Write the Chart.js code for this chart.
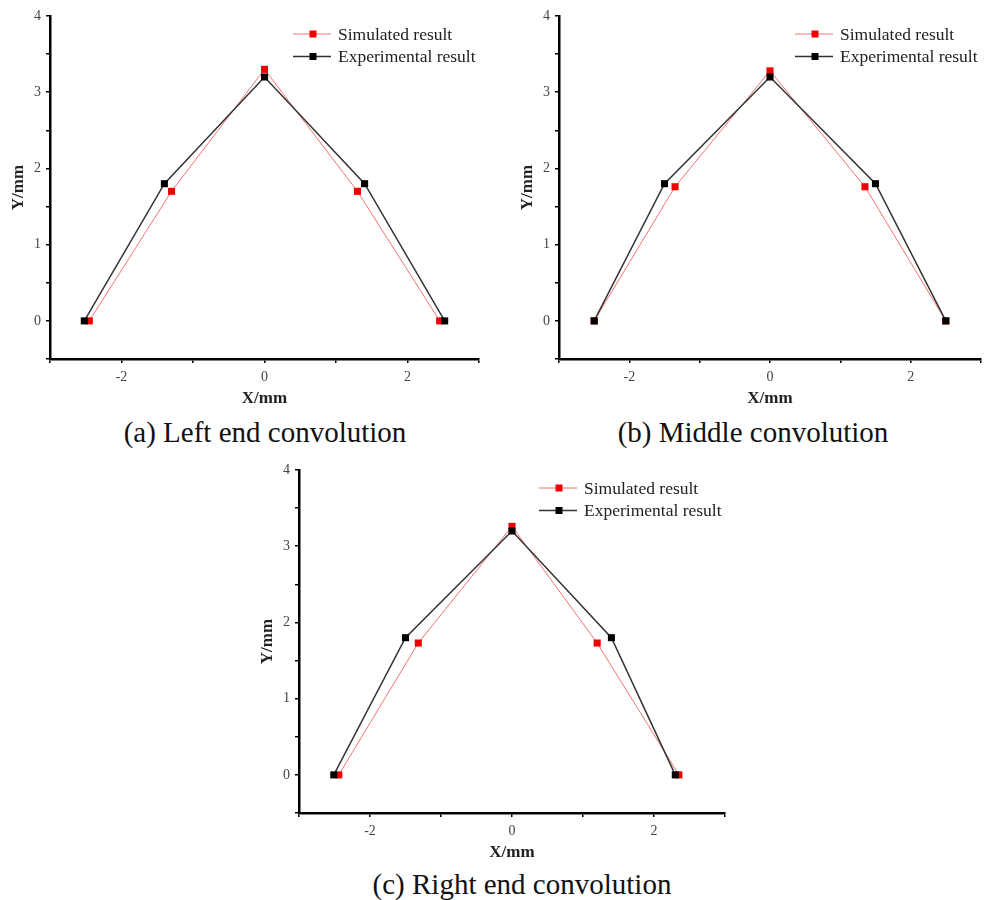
<!DOCTYPE html>
<html>
<head>
<meta charset="utf-8">
<title>Convolution profiles</title>
<script src="https://cdn.jsdelivr.net/npm/chart.js@4.4.1/dist/chart.umd.min.js"></script>
<style>
  body { margin: 0; background: #fff; }
  #page { position: relative; width: 987px; height: 900px; overflow: hidden; }
  .panel { position: absolute; }
  .caption {
    position: absolute;
    width: 400px;
    text-align: center;
    font-family: 'Liberation Serif', 'Times New Roman', serif;
    font-size: 29px;
    line-height: 34px;
    color: #111;
  }
</style>
</head>
<body>
<div id="page">
  <div class="panel" style="left:0px;top:0px;"><canvas id="chartA" width="490" height="410"></canvas></div>
  <div class="panel" style="left:509px;top:0px;"><canvas id="chartB" width="478" height="410"></canvas></div>
  <div class="panel" style="left:249px;top:454px;"><canvas id="chartC" width="490" height="410"></canvas></div>
  <div class="caption" style="left:65px;top:415px;">(a) Left end convolution</div>
  <div class="caption" style="left:553px;top:415px;">(b) Middle convolution</div>
  <div class="caption" style="left:322px;top:867px;">(c) Right end convolution</div>
</div>
<script>
const seriesNames = ['Simulated result', 'Experimental result'];
const xTickLabels = [-2, 0, 2];
const yTickLabels = [0, 1, 2, 3, 4];

// (a) left end
const simXA = [-2.45, -1.3, 0, 1.3, 2.45];
const simYA = [0, 1.7, 3.3, 1.7, 0];
const expXA = [-2.52, -1.4, 0, 1.4, 2.52];
const expYA = [0, 1.8, 3.2, 1.8, 0];

// (b) middle
const simXB = [-2.5, -1.35, 0, 1.35, 2.5];
const simYB = [0, 1.76, 3.28, 1.76, 0];
const expXB = [-2.5, -1.5, 0, 1.5, 2.5];
const expYB = [0, 1.8, 3.2, 1.8, 0];

// (c) right end
const simXC = [-2.44, -1.32, 0, 1.2, 2.35];
const simYC = [0, 1.73, 3.26, 1.73, 0];
const expXC = [-2.51, -1.5, 0, 1.4, 2.3];
const expYC = [0, 1.8, 3.2, 1.8, 0];

const serif = "'Liberation Serif', 'Times New Roman', serif";

const toPoints = (xs, ys) => xs.map((x, i) => ({ x: x, y: ys[i] }));

// line + square marker legend in the top right corner of the plot
const cornerLegend = {
  id: 'cornerLegend',
  afterDatasetsDraw(chart) {
    const { ctx, chartArea } = chart;
    const x0 = chartArea.right - 186;
    const rows = [chart.data.datasets[0], chart.data.datasets[1]];
    ctx.save();
    rows.forEach((ds, i) => {
      const y = chartArea.top + 18 + i * 22.5;
      ctx.strokeStyle = ds.borderColor;
      ctx.lineWidth = ds.borderWidth;
      ctx.beginPath();
      ctx.moveTo(x0, y);
      ctx.lineTo(x0 + 38, y);
      ctx.stroke();
      ctx.fillStyle = ds.pointBackgroundColor;
      ctx.fillRect(x0 + 16.5, y - 3.5, 7, 7);
      ctx.fillStyle = '#222';
      ctx.font = '17.5px ' + serif;
      ctx.textBaseline = 'middle';
      ctx.textAlign = 'left';
      ctx.fillText(ds.label, x0 + 45, y + 1);
    });
    ctx.restore();
  }
};

function makePanel(canvasId, simX, simY, expX, expY, padRight) {
  const ctx = document.getElementById(canvasId).getContext('2d');
  return new Chart(ctx, {
    type: 'scatter',
    data: {
      datasets: [{
        label: seriesNames[0],
        data: toPoints(simX, simY),
        showLine: true,
        borderColor: 'rgba(240, 90, 90, 0.85)',
        borderWidth: 1,
        pointStyle: 'rect',
        pointRadius: 5,
        pointBorderWidth: 0,
        pointBackgroundColor: '#f00000',
        order: 1
      }, {
        label: seriesNames[1],
        data: toPoints(expX, expY),
        showLine: true,
        borderColor: '#333333',
        borderWidth: 1.5,
        pointStyle: 'rect',
        pointRadius: 5,
        pointBorderWidth: 0,
        pointBackgroundColor: '#000000',
        order: 0
      }]
    },
    options: {
      responsive: false,
      animation: false,
      layout: { padding: { left: 0, top: 16, right: padRight, bottom: 0 } },
      plugins: {
        legend: { display: false },
        tooltip: { enabled: false }
      },
      scales: {
        x: {
          type: 'linear',
          min: -3,
          max: 3,
          afterFit: (scale) => { scale.height = 51; },
          border: { color: '#000', width: 2.5 },
          grid: { drawOnChartArea: false, drawTicks: true, tickLength: 4, color: '#000', lineWidth: 1.5 },
          ticks: {
            stepSize: 1,
            padding: 6,
            color: '#444',
            font: { family: serif, size: 14 },
            callback: (v) => xTickLabels.includes(v) ? String(v) : ''
          },
          title: {
            display: true,
            text: 'X/mm',
            color: '#222',
            font: { family: serif, size: 17, weight: 'bold' },
            padding: { top: 0, bottom: 1 }
          }
        },
        y: {
          type: 'linear',
          min: -0.5,
          max: 4,
          afterFit: (scale) => { scale.width = 50; },
          border: { color: '#000', width: 2.5 },
          grid: { drawOnChartArea: false, drawTicks: true, tickLength: 4, color: '#000', lineWidth: 1.5 },
          ticks: {
            stepSize: 0.5,
            padding: 5,
            color: '#444',
            font: { family: serif, size: 14 },
            callback: (v) => yTickLabels.includes(v) ? String(v) : ''
          },
          title: {
            display: true,
            text: 'Y/mm',
            color: '#222',
            font: { family: serif, size: 17, weight: 'bold' },
            padding: { top: 8, bottom: 0 }
          }
        }
      }
    },
    plugins: [cornerLegend]
  });
}

makePanel('chartA', simXA, simYA, expXA, expYA, 11);
makePanel('chartB', simXB, simYB, expXB, expYB, 1);
makePanel('chartC', simXC, simYC, expXC, expYC, 14);
</script>
</body>
</html>
